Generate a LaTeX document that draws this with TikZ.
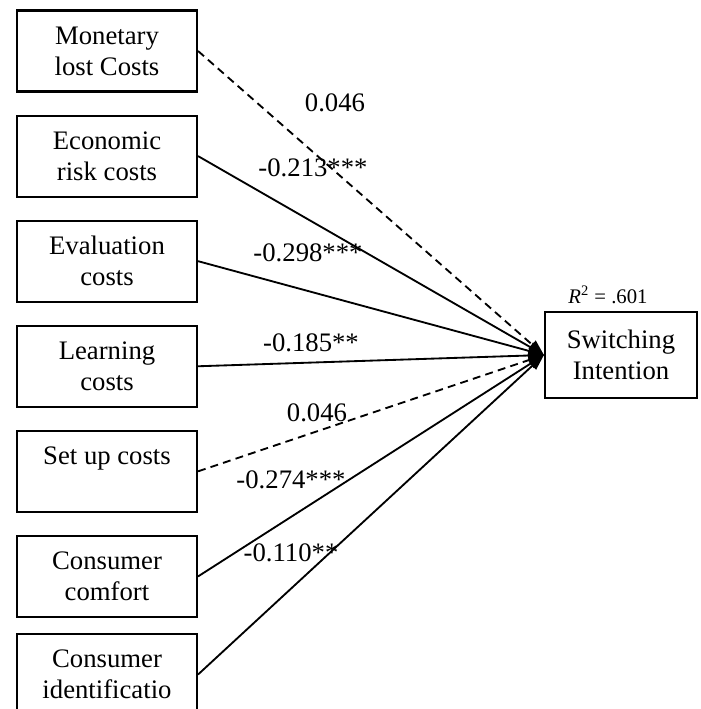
\documentclass[tikz,border=0pt]{standalone}
\usepackage{fontspec}
\setmainfont{Liberation Serif}
\usetikzlibrary{positioning,arrows.meta}

\begin{document}
\begin{tikzpicture}[x=0.02cm,y=-0.02cm,node distance=0.44cm]
      \tikzstyle{box}=[draw,line width=1.2pt,minimum width=3.6cm,minimum height=1.62cm,align=center,inner sep=2pt,font=\fontsize{15.2}{17.6}\selectfont]
      \tikzstyle{coef}=[inner sep=0pt,font=\fontsize{15.2}{17.6}\selectfont]
      \tikzstyle{eff}=[line width=1.05pt,-{Triangle[length=9pt,width=6pt]}]
      \tikzstyle{nseff}=[eff,dash pattern=on 4.5pt off 3pt]
      \useasboundingbox (0,0) rectangle (700,709);
      \node[box] (mon) at (107,51) {Monetary\\lost Costs};
      \node[box,below=of mon] (eco) {Economic\\risk costs};
      \node[box,below=of eco] (eva) {Evaluation\\costs};
      \node[box,below=of eva] (lea) {Learning\\costs};
      \node[box,below=of lea] (set) {Set up costs\\~};
      \node[box,below=of set] (com) {Consumer\\comfort};
      \node[box,below=0.3cm of com] (ide) {Consumer\\identificatio};
      \node[box,minimum width=3.04cm,minimum height=1.72cm] (swi) at (621,355) {Switching\\Intention};
      \node[inner sep=0pt,font=\fontsize{11.8}{14}\selectfont] (rsq) at (608,295) {\textit{R}\textsuperscript{2} = .601};
      \draw[nseff] (mon.east) -- (swi.west);
      \draw[eff] (eco.east) -- (swi.west);
      \draw[eff] (eva.east) -- (swi.west);
      \draw[eff] (lea.east) -- (swi.west);
      \draw[nseff] (set.east) -- (swi.west);
      \draw[eff] (com.east) -- (swi.west);
      \draw[eff] (ide.east) -- (swi.west);
      % path coefficients
      \node[coef] (cmon) at (335,103) {0.046};
      \node[coef] (ceco) at (313,168) {-0.213***};
      \node[coef] (ceva) at (308,253) {-0.298***};
      \node[coef] (clea) at (311,343) {-0.185**};
      \node[coef] (cset) at (317,413) {0.046};
      \node[coef] (ccom) at (291,480) {-0.274***};
      \node[coef] (cide) at (291,553) {-0.110**};
    \end{tikzpicture}
\end{document}
